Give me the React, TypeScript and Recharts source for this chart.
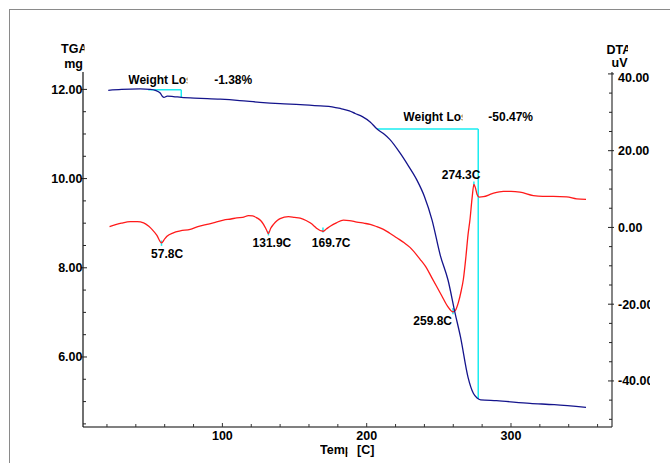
import React from 'react';
import { ComposedChart, Line, XAxis, YAxis, ReferenceLine, ReferenceDot } from 'recharts';

// ---- data ----
const tgaTemp = [20.9, 30, 43, 50, 53.5, 56.9, 58.5, 59.5, 61.8, 66, 71.5, 85, 98.5, 112, 126, 140, 154, 168, 176, 182, 188, 192, 197, 202.4, 207.2, 212, 216, 223.2, 229, 234.9, 240, 245.3, 251, 256.4, 261.2, 265, 270.2, 274, 276.5, 279, 290, 313.2, 330, 352];
const tgaMass = [11.98, 12.0, 12.01, 12.0, 11.98, 11.92, 11.84, 11.82, 11.85, 11.84, 11.82, 11.8, 11.78, 11.75, 11.71, 11.68, 11.66, 11.63, 11.61, 11.57, 11.52, 11.46, 11.39, 11.27, 11.11, 11.0, 10.88, 10.57, 10.28, 9.96, 9.6, 9.07, 8.28, 7.72, 6.99, 6.45, 5.55, 5.18, 5.08, 5.04, 5.02, 4.96, 4.93, 4.87];

const dtaTemp = [21.8, 30, 36.2, 41, 45.4, 49, 51.2, 54.5, 57.8, 60, 61.6, 66, 70.8, 77.7, 83, 89.3, 95, 100.8, 106, 110, 114, 118.1, 121, 123.9, 126.5, 128.5, 130.5, 131.9, 133.5, 135.4, 138, 140, 145.8, 150, 153.9, 158, 160.8, 163.5, 165.5, 169.7, 172, 174.7, 179, 183.9, 188, 193.2, 198, 202.4, 207, 211.6, 216, 220.8, 226, 230, 237, 241, 245, 252, 256, 259.8, 261.5, 263.5, 265.5, 267, 268.8, 270.2, 271.6, 273, 274.3, 275.2, 276.5, 278, 280.9, 287, 294.7, 300, 306.2, 315.5, 322, 329.3, 338.6, 345.5, 352];
const dtaSignal = [0.2, 1.1, 1.5, 1.5, 1.2, 0.3, -0.5, -2.0, -4.0, -3.0, -2.3, -1.4, -0.9, -0.5, 0.2, 0.8, 1.3, 1.9, 2.2, 2.5, 2.6, 3.1, 3.0, 2.5, 1.8, 0.8, -0.6, -1.6, -0.2, 0.8, 1.8, 2.3, 2.8, 2.6, 2.4, 1.8, 1.2, 0.4, -0.3, -1.0, -0.4, 0.3, 1.2, 1.9, 1.8, 1.4, 1.1, 0.8, 0.2, -0.5, -1.5, -2.7, -4.0, -5.2, -8.3, -10.3, -13.0, -17.8, -20.5, -22.0, -21.6, -19.6, -16.5, -13.5, -7.5, -2.0, 2.1, 7.5, 11.2, 10.5, 8.6, 7.9, 8.0, 8.8, 9.4, 9.4, 9.2, 8.3, 8.1, 8.1, 7.97, 7.45, 7.3];

// ticks
const xTicks = [20, 40, 60, 80, 100, 120, 140, 160, 180, 200, 220, 240, 260, 280, 300, 320, 340, 360];
const xLabels = [100, 200, 300];
const tgaTicks = [4.5, 5, 5.5, 6, 6.5, 7, 7.5, 8, 8.5, 9, 9.5, 10, 10.5, 11, 11.5, 12];
const tgaLabels = [6, 8, 10, 12];
const dtaTicks = [-50, -45, -40, -35, -30, -25, -20, -15, -10, -5, 0, 5, 10, 15, 20, 25, 30, 35, 40];
const dtaLabels = [-40, -20, 0, 20, 40];

// peaks
const peakTemps = [57.8, 131.9, 169.7, 259.8, 274.3];
const peakNames = ['57.8C', '131.9C', '169.7C', '259.8C', '274.3C'];
const peakMarkTop = [-3.4, -1.0, 0.0, -21.0, 12.0];
const peakMarkBottom = [-4.8, -2.1, -1.3, -22.6, 10.6];
const peakLabelT = [50.6, 120.9, 162.0, 232.3, 252.0];
const peakLabelY = [-8.05, -5.19, -5.19, -25.45, 12.6];

// weight-loss steps
const stepStartT = [48.6, 207.2];
const stepEndT = [71.5, 277.3];
const stepStartMass = [11.99, 11.11];
const stepEndMass = [11.82, 5.06];
const stepValues = ['-1.38%', '-50.47%'];
const stepTitleT = [34.8, 225.4];
const stepValueT = [94.3, 284.3];
const stepLabelMass = [12.112, 11.284];

const tgaData = tgaTemp.map((t, i) => ({ t, tga: tgaMass[i] }));
const dtaData = dtaTemp.map((t, i) => ({ t, dta: dtaSignal[i] }));

const F = "'Liberation Sans', Arial, Helvetica, sans-serif";
const FS = 12.5;
const CYAN = '#19ecf0';
const NAVY = '#14148c';
const RED = '#ff1a1a';

const XTick = (p: any) => {
  const v = p.payload.value;
  const major = xLabels.includes(v);
  return (
    <g>
      <line x1={p.x} x2={p.x} y1={p.y} y2={p.y - (major ? 4 : 3)} stroke="#333" strokeWidth={1} />
      {major && (
        <text x={p.x} y={p.y + 13} textAnchor="middle" fontFamily={F} fontWeight="bold" fontSize={FS} fill="#000">
          {v}
        </text>
      )}
    </g>
  );
};

const LeftTick = (p: any) => {
  const v = p.payload.value;
  const major = tgaLabels.includes(v);
  return (
    <g>
      <line x1={major ? p.x - 2 : p.x} x2={p.x + (major ? 4 : 3)} y1={p.y} y2={p.y} stroke="#222" strokeWidth={1} />
      {major && (
        <text x={p.x - 0.5} y={p.y + 4.4} textAnchor="end" fontFamily={F} fontWeight="bold" fontSize={FS} fill="#000">
          {v.toFixed(2)}
        </text>
      )}
    </g>
  );
};

const RightTick = (p: any) => {
  const v = p.payload.value;
  const major = dtaLabels.includes(v);
  // the topmost label sits a little below its tick, as in the reference
  const shift = v === 40 ? 4 : 0;
  return (
    <g>
      <line x1={p.x - (major ? 4 : 3)} x2={major ? p.x + 2 : p.x} y1={p.y} y2={p.y} stroke="#222" strokeWidth={1} />
      {major && (
        <svg x={p.x} y={p.y - 10 + shift} width={38} height={20} overflow="hidden">
          <text x={6} y={14.4} fontFamily={F} fontWeight="bold" fontSize={FS} fill="#000">
            {v.toFixed(2)}
          </text>
        </svg>
      )}
    </g>
  );
};

const txt = (s: string) => (p: any) => (
  <text x={p.viewBox.x} y={p.viewBox.y} fontFamily={F} fontWeight="bold" fontSize={12} fill="#000">
    {s}
  </text>
);

const clipTxt = (s: string, w: number) => (p: any) => (
  <svg x={p.viewBox.x} y={p.viewBox.y - 12} width={w} height={16} overflow="hidden">
    <text x={0} y={12} fontFamily={F} fontWeight="bold" fontSize={12} fill="#000">
      {s}
    </text>
  </svg>
);

const LeftTitle = (p: any) => {
  const vb = p.viewBox;
  const right = vb.x + vb.width;
  return (
    <g>
      <svg x={0} y={vb.y - 40} width={right + 1.5} height={30} overflow="hidden">
        <text x={right + 4.5} y={21} textAnchor="end" fontFamily={F} fontWeight="bold" fontSize={FS} fill="#000">
          TGA
        </text>
      </svg>
      <text x={right} y={vb.y - 4.5} textAnchor="end" fontFamily={F} fontWeight="bold" fontSize={FS} fill="#000">
        mg
      </text>
    </g>
  );
};

const RightTitle = (p: any) => {
  const vb = p.viewBox;
  return (
    <g>
      <svg x={vb.x - 6} y={vb.y - 40} width={22} height={30} overflow="hidden">
        <text x={0.5} y={22} fontFamily={F} fontWeight="bold" fontSize={FS} fill="#000">
          DTA
        </text>
      </svg>
      <text x={vb.x - 0.5} y={vb.y - 5} fontFamily={F} fontWeight="bold" fontSize={FS} fill="#000">
        uV
      </text>
    </g>
  );
};

const XTitle = (p: any) => {
  const vb = p.viewBox;
  const x0 = vb.x + 237;
  const y0 = vb.y + 27;
  return (
    <g>
      <svg x={x0} y={y0 - 14} width={27.5} height={20} overflow="hidden">
        <text x={0} y={14} fontFamily={F} fontWeight="bold" fontSize={FS} fill="#000">
          Temp
        </text>
      </svg>
      <text x={x0 + 37} y={y0} fontFamily={F} fontWeight="bold" fontSize={FS} fill="#000">
        [C]
      </text>
    </g>
  );
};

export default function App() {
  return (
    <div style={{ position: 'absolute', left: 0, top: 0, width: 670, height: 463, overflow: 'hidden', background: '#fff' }}>
      <div
        style={{
          position: 'absolute',
          left: 9,
          top: 9,
          width: 680,
          height: 480,
          borderLeft: '1.5px solid #8a8a8a',
          borderTop: '1.5px solid #8a8a8a',
        }}
      />
      <div style={{ position: 'absolute', left: 0, top: 0 }}>
        <ComposedChart width={670} height={463} margin={{ top: 72, right: 0, bottom: 0, left: 0 }}>
          <XAxis
            dataKey="t"
            type="number"
            domain={[3.4, 370]}
            allowDataOverflow
            ticks={xTicks}
            interval={0}
            height={36}
            tickSize={0}
            tickMargin={0}
            tickLine={false}
            tick={<XTick />}
            axisLine={{ stroke: '#808080', strokeWidth: 2 }}
            label={(p: any) => <XTitle {...p} />}
          />
          <XAxis
            xAxisId="top"
            orientation="top"
            dataKey="t"
            type="number"
            domain={[3.4, 370]}
            height={0}
            tick={false}
            tickLine={false}
            axisLine={{ stroke: '#8a8a8a', strokeWidth: 1.2 }}
          />
          <YAxis
            yAxisId="tga"
            orientation="left"
            type="number"
            domain={[4.43, 12.39]}
            allowDataOverflow
            ticks={tgaTicks}
            interval={0}
            width={83}
            tickSize={0}
            tickMargin={0}
            tickLine={false}
            tick={<LeftTick />}
            axisLine={{ stroke: '#111', strokeWidth: 1.2 }}
            label={(p: any) => <LeftTitle {...p} />}
          />
          <YAxis
            yAxisId="dta"
            orientation="right"
            type="number"
            domain={[-52, 40.5]}
            allowDataOverflow
            ticks={dtaTicks}
            interval={0}
            width={58}
            tickSize={0}
            tickMargin={0}
            tickLine={false}
            tick={<RightTick />}
            axisLine={{ stroke: '#333', strokeWidth: 1.2 }}
            label={(p: any) => <RightTitle {...p} />}
          />

          {stepStartT.map((t, i) => (
            <ReferenceLine
              key={'sh' + i}
              yAxisId="tga"
              segment={[
                { x: t, y: stepStartMass[i] },
                { x: stepEndT[i], y: stepStartMass[i] },
              ]}
              stroke={CYAN}
              strokeWidth={1.5}
            />
          ))}
          {stepStartT.map((t, i) => (
            <ReferenceLine
              key={'sv' + i}
              yAxisId="tga"
              segment={[
                { x: stepEndT[i], y: stepStartMass[i] },
                { x: stepEndT[i], y: stepEndMass[i] },
              ]}
              stroke={CYAN}
              strokeWidth={1.5}
            />
          ))}
          {peakTemps.map((t, i) => (
            <ReferenceLine
              key={'pm' + i}
              yAxisId="dta"
              segment={[
                { x: t, y: peakMarkTop[i] },
                { x: t, y: peakMarkBottom[i] },
              ]}
              stroke={CYAN}
              strokeWidth={1.5}
            />
          ))}

          <Line
            yAxisId="dta"
            data={dtaData}
            dataKey="dta"
            type="monotone"
            stroke={RED}
            strokeWidth={1.3}
            dot={false}
            activeDot={false}
            isAnimationActive={false}
          />
          <Line
            yAxisId="tga"
            data={tgaData}
            dataKey="tga"
            type="monotone"
            stroke={NAVY}
            strokeWidth={1.3}
            dot={false}
            activeDot={false}
            isAnimationActive={false}
          />

          {stepTitleT.map((t, i) => (
            <ReferenceDot
              key={'wt' + i}
              yAxisId="tga"
              x={t}
              y={stepLabelMass[i]}
              r={0}
              fill="none"
              stroke="none"
              label={clipTxt('Weight Loss', 59)}
            />
          ))}
          {stepValueT.map((t, i) => (
            <ReferenceDot
              key={'wv' + i}
              yAxisId="tga"
              x={t}
              y={stepLabelMass[i]}
              r={0}
              fill="none"
              stroke="none"
              label={txt(stepValues[i])}
            />
          ))}
          {peakLabelT.map((t, i) => (
            <ReferenceDot
              key={'pl' + i}
              yAxisId="dta"
              x={t}
              y={peakLabelY[i]}
              r={0}
              fill="none"
              stroke="none"
              label={txt(peakNames[i])}
            />
          ))}
        </ComposedChart>
      </div>
    </div>
  );
}
